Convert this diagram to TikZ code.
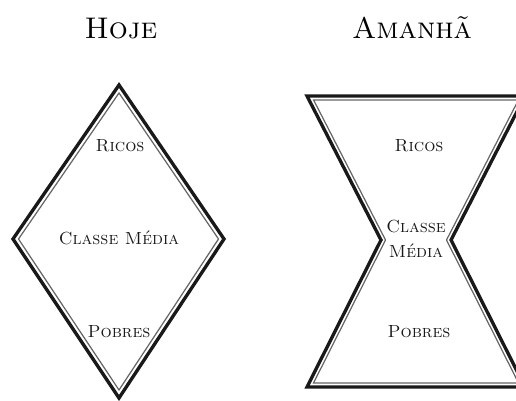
\documentclass[tikz,border=0pt]{standalone}
\usepackage{fontspec}
\begin{document}
\begin{tikzpicture}[x=0.02cm,y=-0.02cm,
  outerline/.style={line width=1.9pt, draw=black!90, line join=miter},
  innerline/.style={line width=0.7pt, draw=black!60, line join=miter},
  heading/.style={anchor=base, font=\fontsize{17}{20}\selectfont\scshape, text=black},
  classtext/.style={anchor=base, font=\fontsize{10}{12}\selectfont\scshape, text=black!90}]
\clip (0,0) rectangle (516,401);
% Hoje
\node[heading] (hoje) at (121,39) {Hoje};
\coordinate (dT) at (119,85);
\coordinate (dL) at (13,239);
\coordinate (dB) at (119,398);
\coordinate (dR) at (224,239);
\coordinate (dTi) at (119,93);
\coordinate (dLi) at (18.5,239);
\coordinate (dBi) at (119,390);
\coordinate (dRi) at (218.5,239);
\draw[outerline] (dT) -- (dL) -- (dB) -- (dR) -- cycle;
\draw[innerline] (dTi) -- (dLi) -- (dBi) -- (dRi) -- cycle;
\node[classtext] (ricosA) at (120,152) {Ricos};
\node[classtext] (mediaA) at (119,245) {Classe Média};
\node[classtext] (pobresA) at (119,337) {Pobres};
% Amanhã
\node[heading] (amanha) at (412,39) {Amanhã};
\coordinate (gTL) at (307,96);
\coordinate (gTR) at (525,96);
\coordinate (gWR) at (451,240);
\coordinate (gBR) at (525,387);
\coordinate (gBL) at (307,387);
\coordinate (gWL) at (381,240);
\coordinate (gTLi) at (313.6,100);
\coordinate (gTRi) at (518.4,100);
\coordinate (gWRi) at (446.5,240);
\coordinate (gBRi) at (518.5,383);
\coordinate (gBLi) at (313.5,383);
\coordinate (gWLi) at (385.5,240);
\draw[outerline] (gTL) -- (gTR) -- (gWR) -- (gBR) -- (gBL) -- (gWL) -- cycle;
\draw[innerline] (gTLi) -- (gTRi) -- (gWRi) -- (gBRi) -- (gBLi) -- (gWLi) -- cycle;
\node[classtext] (ricosB) at (419,152) {Ricos};
\node[classtext] (classeB) at (416,233) {Classe};
\node[classtext] (mediaB) at (416,257) {Média};
\node[classtext] (pobresB) at (419,337) {Pobres};
\end{tikzpicture}
\end{document}
